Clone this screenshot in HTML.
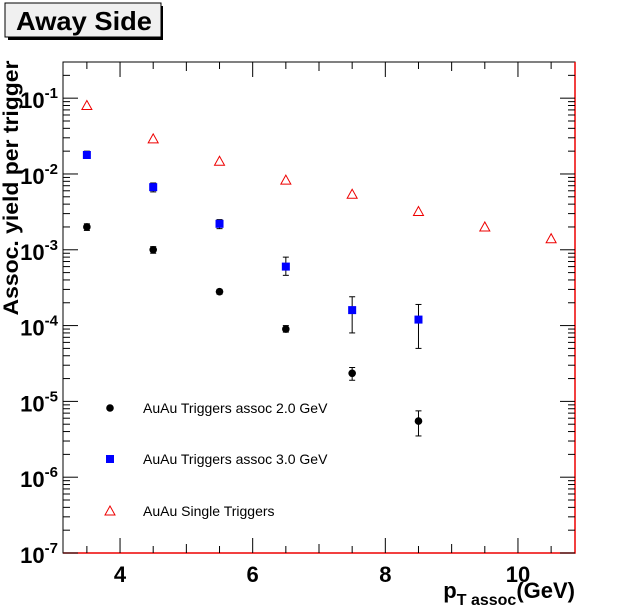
<!DOCTYPE html>
<html><head><meta charset="utf-8"><style>
body{margin:0;background:#fff;}
svg{display:block;font-family:"Liberation Sans",Arial,sans-serif;}
</style></head><body>
<svg id="c" width="639" height="615" xmlns="http://www.w3.org/2000/svg">
<rect x="0" y="0" width="639" height="615" fill="#fff"/>
<g>
<rect x="8" y="6" width="155" height="34" fill="#000"/>
<rect x="5" y="3" width="156" height="34" fill="#f0f0f0" stroke="#000" stroke-width="1"/>
<text x="16" y="30" font-size="26" font-weight="bold" textLength="136" lengthAdjust="spacingAndGlyphs">Away Side</text>
</g>
<g id="axes"></g>
<g id="marks"></g>
<text transform="translate(18,188) rotate(-90)" font-size="21" font-weight="bold" text-anchor="middle" textLength="255" lengthAdjust="spacingAndGlyphs">Assoc. yield per trigger</text>
<text x="575" y="598" font-size="22" font-weight="bold" text-anchor="end">p<tspan font-size="16" dy="7">T assoc</tspan><tspan dy="-7">(GeV)</tspan></text>
</svg>
<script>
const xs2 = [3.5, 4.5, 5.5, 6.5, 7.5, 8.5];
const y2 = [2.0e-3, 1.0e-3, 2.8e-4, 9e-5, 2.35e-5, 5.5e-6];
const y2hi = [2.2e-3, 1.1e-3, 3.0e-4, 1.0e-4, 2.8e-5, 7.5e-6];
const y2lo = [1.8e-3, 0.9e-3, 2.6e-4, 8.2e-5, 1.9e-5, 3.5e-6];
const xs3 = [3.5, 4.5, 5.5, 6.5, 7.5, 8.5];
const y3 = [1.78e-2, 6.7e-3, 2.2e-3, 6e-4, 1.6e-4, 1.2e-4];
const y3hi = [2.0e-2, 7.6e-3, 2.5e-3, 8e-4, 2.4e-4, 1.9e-4];
const y3lo = [1.6e-2, 5.8e-3, 1.9e-3, 4.6e-4, 8e-5, 5e-5];
const xsS = [3.5, 4.5, 5.5, 6.5, 7.5, 8.5, 9.5, 10.5];
const yS = [0.08, 0.029, 0.0147, 0.0083, 0.0054, 0.0032, 0.002, 0.0014];
const xTicks = [4, 6, 8, 10];
const yDecades = [-7, -6, -5, -4, -3, -2, -1];
const legendLabels = ["AuAu Triggers assoc 2.0 GeV", "AuAu Triggers assoc 3.0 GeV", "AuAu Single Triggers"];

const L=63,R=575,T=62,B=553, XMIN=3.14, XMAX=10.86, YMIN=-7, YMAX=Math.log10(0.3);
const X=v=>L+(v-XMIN)/(XMAX-XMIN)*(R-L);
const Y=v=>B-(Math.log10(v)-YMIN)/(YMAX-YMIN)*(B-T);
const NS="http://www.w3.org/2000/svg";
function mk(tag,attrs,parent){const e=document.createElementNS(NS,tag);for(const k in attrs)e.setAttribute(k,attrs[k]);parent.appendChild(e);return e;}
const ax=document.getElementById('axes'), mg=document.getElementById('marks');

let fr=mk('rect',{x:L,y:T,width:R-L,height:B-T,fill:'none',stroke:'#000','stroke-width':1},ax);


let rb=mk('path',{d:`M${R},${T}V${B}H${L}`,fill:'none',stroke:'#e00','stroke-width':1.5},ax);



for(let v=3.5;v<=10.85;v+=0.5){
  const major=xTicks.includes(v);
  const len=major?15:(Number.isInteger(v)?9:7);
  const x=X(v);
  mk('line',{x1:x,y1:B,x2:x,y2:B-len,stroke:'#000'},ax);
  mk('line',{x1:x,y1:T,x2:x,y2:T+len,stroke:'#000'},ax);
}
xTicks.forEach(v=>{
  const t=mk('text',{x:X(v),y:B+29,'font-size':22,'font-weight':'bold','text-anchor':'middle'},ax);
  t.textContent=v;
  
  
});
yDecades.forEach(d=>{
  const y=Y(Math.pow(10,d));
  mk('line',{x1:L,y1:y,x2:L+15,y2:y,stroke:'#000'},ax);
  mk('line',{x1:R,y1:y,x2:R-15,y2:y,stroke:'#000'},ax);
  for(let m=2;m<=9;m++){
    const v=m*Math.pow(10,d); if(v>0.3)break;
    const yy=Y(v);
    mk('line',{x1:L,y1:yy,x2:L+7,y2:yy,stroke:'#000'},ax);
    mk('line',{x1:R,y1:yy,x2:R-7,y2:yy,stroke:'#000'},ax);
  }
  const t=mk('text',{x:L-5,y:y+10,'font-size':22,'font-weight':'bold','text-anchor':'end'},ax);
  
  
  t.innerHTML='10<tspan font-size="15" dy="-10">'+d+'</tspan>';
});

function err(x,lo,hi){
  const g=mk('g',{stroke:'#000','stroke-width':1},mg);
  mk('line',{x1:X(x),y1:Y(lo),x2:X(x),y2:Y(hi)},g);
  mk('line',{x1:X(x)-3,y1:Y(lo),x2:X(x)+3,y2:Y(lo)},g);
  mk('line',{x1:X(x)-3,y1:Y(hi),x2:X(x)+3,y2:Y(hi)},g);
}
xs2.forEach((x,i)=>{
  err(x,y2lo[i],y2hi[i]);
  const c=mk('circle',{cx:X(x),cy:Y(y2[i]),r:3.8,fill:'#000'},mg);
  
  
});
xs3.forEach((x,i)=>{
  err(x,y3lo[i],y3hi[i]);
  const r=mk('rect',{x:X(x)-4,y:Y(y3[i])-4,width:8,height:8,fill:'#00f'},mg);
  
  
});
function tri(cx,cy){return `${cx},${cy-5} ${cx-5},${cy+4} ${cx+5},${cy+4}`;}
xsS.forEach((x,i)=>{
  const p=mk('polygon',{points:tri(X(x),Y(yS[i])),fill:'none',stroke:'#e00','stroke-width':1},mg);
  
  
});
const ly=[408,459,511];
const lg=mk('g',{},mg);


mk('circle',{cx:110,cy:ly[0],r:3.8,fill:'#000'},lg);
mk('rect',{x:106,y:ly[1]-4,width:8,height:8,fill:'#00f'},lg);
mk('polygon',{points:tri(110,ly[2]),fill:'none',stroke:'#e00'},lg);
legendLabels.forEach((s,i)=>{
  const t=mk('text',{x:143,y:ly[i]+5,'font-size':14},lg);
  t.textContent=s;
  
  
});
</script>
</body></html>
